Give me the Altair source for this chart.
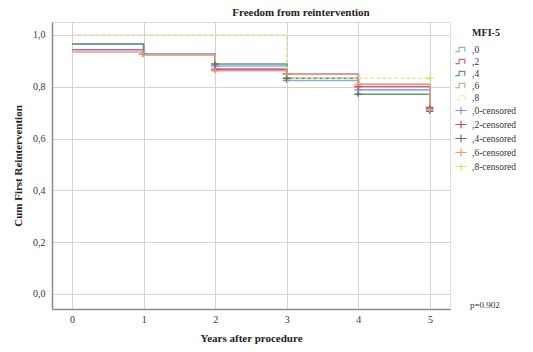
import altair as alt
import pandas as pd

# ---- data ----
years = [0, 1, 2, 3, 4, 5]
groups = [",0", ",2", ",4", ",6", ",8"]
surv_0 = [0.965, 0.925, 0.880, 0.824, 0.788, 0.715]
surv_2 = [0.943, 0.925, 0.868, 0.849, 0.801, 0.720]
surv_4 = [0.965, 0.925, 0.888, 0.833, 0.771, 0.705]
surv_6 = [0.934, 0.925, 0.862, 0.849, 0.810, 0.710]
surv_8 = [1.000, 1.000, 1.000, 0.833, 0.833, 0.833]
censor_years = [1, 2, 3, 4, 5]
censor_8 = [(5, 0.833)]

line_colors = ["#93acd8", "#cc5f94", "#5d9c6e", "#dca48c", "#e6e08a"]
censor_colors = ["#8a8fd8", "#d8406c", "#4c7c5c", "#e2a062", "#e6df6a"]

all_series = groups + [g + "-censored" for g in groups]
all_colors = line_colors + censor_colors

step_icon = "M-1.3,0.45L-0.5,0.45L-0.5,-0.45L0.7,-0.45L0.7,0.45"
dot_icon = ("M-1.3,0.45L-1.05,0.45M-0.8,0.45L-0.5,0.45L-0.5,0.3M-0.5,0L-0.5,-0.2"
            "M-0.35,-0.45L-0.1,-0.45M0.15,-0.45L0.4,-0.45M0.7,-0.4L0.7,-0.15M0.7,0.1L0.7,0.45")
plus_icon = "M-1.3,0L1.1,0M-0.1,-0.8L-0.1,0.8"
shapes = [step_icon] * 4 + [dot_icon] + [plus_icon] * 5

series_vals = [surv_0, surv_2, surv_4, surv_6, surv_8]

rows = []
for g, vals in zip(groups, series_vals):
    for t, v in zip(years, vals):
        rows.append({"series": g, "t": t, "s": v})
lines_df = pd.DataFrame(rows)

crow = []
for g, vals in zip(groups[:4], series_vals[:4]):
    for t in censor_years:
        crow.append({"series": g + "-censored", "t": t, "s": vals[years.index(t)]})
for t, v in censor_8:
    crow.append({"series": ",8-censored", "t": t, "s": v})
cens_df = pd.DataFrame(crow)

FONT = "Liberation Serif"

xscale = alt.Scale(domain=[-0.28, 5.28], nice=False, zero=False)
yscale = alt.Scale(domain=[-0.058, 1.05], nice=False, zero=False)
cscale = alt.Scale(domain=all_series, range=all_colors)
sscale = alt.Scale(domain=all_series, range=shapes)

xaxis = alt.Axis(values=[0, 1, 2, 3, 4, 5], format="d", title="Years after procedure", grid=True,
                 gridColor="#d4d4d4", ticks=False, domainColor="#8c8c8c", domainWidth=1.5,
                 labelFont=FONT, labelFontSize=10, labelColor="#333", labelPadding=5,
                 titleFont=FONT, titleFontSize=11, titleFontWeight="bold", titlePadding=8,
                 titleColor="#222")
yaxis = alt.Axis(values=[0, 0.2, 0.4, 0.6, 0.8, 1.0], title="Cum First Reintervention",
                 labelExpr="replace(format(datum.value, '.1f'), '.', ',')",
                 grid=True, gridColor="#d4d4d4", ticks=False, domainColor="#8c8c8c",
                 domainWidth=1.5, labelFont=FONT, labelFontSize=10, labelColor="#333",
                 labelPadding=7, titleFont=FONT, titleFontSize=11, titleFontWeight="bold",
                 titlePadding=9, titleColor="#222")

lines = alt.Chart(lines_df).mark_line(interpolate="step-after", strokeWidth=1.6, clip=True).encode(
    x=alt.X("t:Q", scale=xscale, axis=xaxis),
    y=alt.Y("s:Q", scale=yscale, axis=yaxis),
    color=alt.Color("series:N", scale=cscale, legend=None),
    strokeDash=alt.StrokeDash("series:N", scale=alt.Scale(domain=groups,
                              range=[[1, 0], [1, 0], [1, 0], [1, 0], [3, 3]]), legend=None),
    detail="series:N",
    order="t:Q",
)

legend = alt.Legend(title="MFI-5", orient="none", legendX=404, legendY=6,
                    titleFont=FONT, titleFontSize=10, titleFontWeight="bold",
                    titleColor="#222", titleAnchor="middle", titlePadding=6,
                    labelFont=FONT, labelFontSize=9.5, labelColor="#333",
                    symbolSize=90, symbolStrokeWidth=1.2, symbolFillColor="transparent",
                    rowPadding=1, labelOffset=5, values=all_series)

marks = alt.Chart(cens_df).mark_point(filled=False, size=40, strokeWidth=1.4, opacity=1).encode(
    x=alt.X("t:Q", scale=xscale),
    y=alt.Y("s:Q", scale=yscale),
    color=alt.Color("series:N", scale=cscale, legend=legend),
    shape=alt.Shape("series:N", scale=sscale, legend=legend),
)

ptext = alt.Chart(pd.DataFrame({"label": ["p=0.902"]})).mark_text(
    font=FONT, fontSize=9, color="#333", align="left", baseline="middle"
).encode(x=alt.value(418), y=alt.value(283), text="label:N")

chart = alt.layer(lines, marks, ptext).resolve_legend(
    color="independent", shape="independent", strokeDash="independent"
).properties(
    width=398, height=287,
    title=alt.TitleParams("Freedom from reintervention", font=FONT, fontSize=11,
                          fontWeight="bold", color="#222", dx=50, offset=4),
    autosize=alt.AutoSizeParams(type="none"),
    padding={"left": 52, "top": 22, "right": 83, "bottom": 43},
).configure_view(stroke=None).configure(background="white")

chart.save("out.html", embed_options={"renderer": "svg", "actions": False})
